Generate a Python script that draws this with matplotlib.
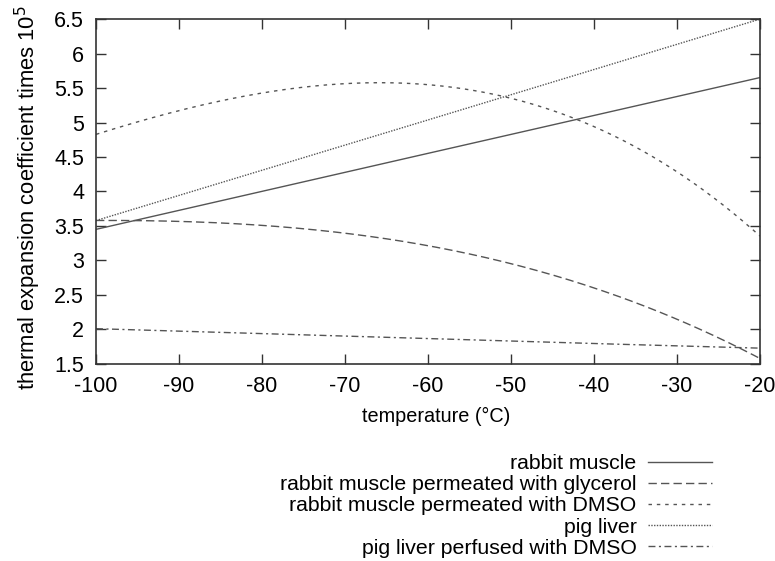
import numpy as np
import matplotlib.pyplot as plt

plt.rcParams['font.family'] = ['Liberation Sans', 'DejaVu Sans']
plt.rcParams['axes.unicode_minus'] = False

temp = [-100, -90, -80, -70, -60, -50, -40, -30, -20]

rabbit_muscle = [3.45, 3.73, 4.00, 4.28, 4.55, 4.83, 5.10, 5.38, 5.65]
rabbit_glycerol = [3.58, 3.57, 3.50, 3.40, 3.22, 2.95, 2.60, 2.15, 1.58]
rabbit_dmso = [4.83, 5.17, 5.42, 5.57, 5.56, 5.34, 4.93, 4.30, 3.35]
pig_liver = [3.58, 3.94, 4.31, 4.67, 5.04, 5.40, 5.77, 6.13, 6.50]
pig_liver_dmso = [2.01, 1.98, 1.94, 1.90, 1.87, 1.83, 1.80, 1.76, 1.73]

labels = ['rabbit muscle', 'rabbit muscle permeated with glycerol',
          'rabbit muscle permeated with DMSO', 'pig liver',
          'pig liver perfused with DMSO']

col = '#555555'
fig = plt.figure(figsize=(7.75, 5.61), dpi=100)
ax = fig.add_axes([0.1239, 0.3512, 0.8567, 0.6149])

xs = np.linspace(-100, -20, 200)
def smooth(y):
    c = np.polyfit(temp, y, 3)
    return np.polyval(c, xs)

ax.plot(xs, smooth(rabbit_muscle), color=col, lw=1.0, label=labels[0])
ax.plot(xs, smooth(rabbit_glycerol), color=col, lw=1.0, dashes=(6, 3), label=labels[1])
ax.plot(xs, smooth(rabbit_dmso), color=col, lw=1.0, dashes=(2.5, 3.5), label=labels[2])
ax.plot(xs, smooth(pig_liver), color=col, lw=1.0, dashes=(1, 1), label=labels[3])
ax.plot(xs, smooth(pig_liver_dmso), color=col, lw=1.0, dashes=(5, 2.5, 1.5, 2.5), label=labels[4])

ax.set_xlim(-100, -20)
ax.set_ylim(1.5, 6.5)
ax.set_xticks(np.arange(-100, -19, 10))
ax.set_yticks(np.arange(1.5, 6.51, 0.5))
ax.set_yticklabels(['1.5', '2', '2.5', '3', '3.5', '4', '4.5', '5', '5.5', '6', '6.5'])
ax.tick_params(direction='in', top=True, right=True, length=7, width=1.0,
               labelsize=15.5, color='#333333')
ax.tick_params(axis='x', pad=9)
ax.tick_params(axis='y', pad=8.5)
for s in ax.spines.values():
    s.set_color('#333333')
    s.set_linewidth(1.2)

ax.set_xlabel('temperature (°C)', fontsize=14.3)
ax.xaxis.set_label_coords(0.512, -0.125)
ax.set_ylabel('thermal expansion coefficient times 10$^5$', fontsize=15.8)
ax.yaxis.set_label_coords(-0.080, 0.481)

fig.legend(loc='upper right', bbox_to_anchor=(0.938, 0.217), frameon=False,
           markerfirst=False, alignment='right', fontsize=15.3,
           handlelength=3.0, handletextpad=0.55, labelspacing=0.1,
           borderpad=0.2)

plt.savefig('out.png', dpi=100)
